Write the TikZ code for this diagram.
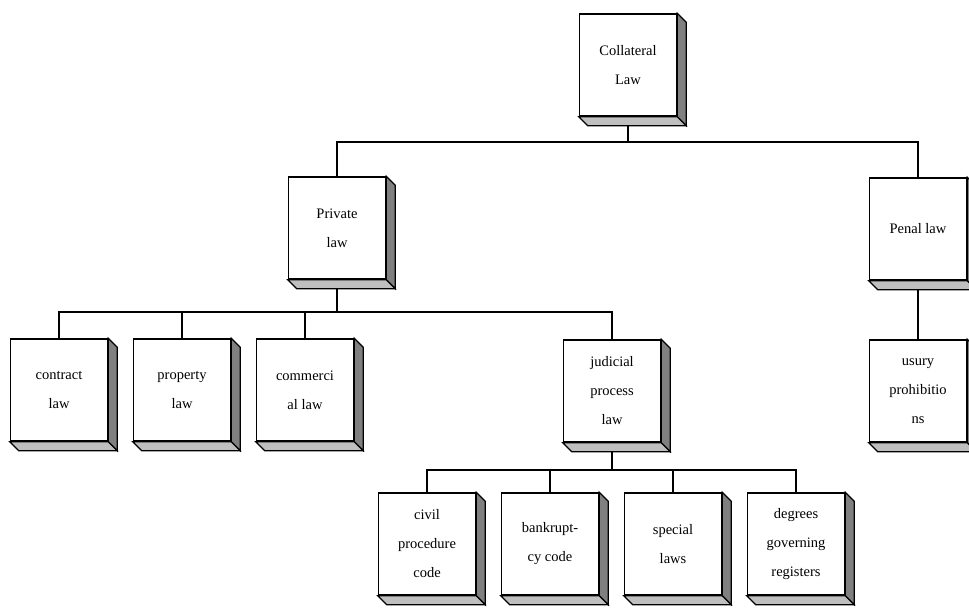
\documentclass[tikz,border=0pt]{standalone}
\usepackage{fontspec}
\setmainfont{Liberation Serif}
\usetikzlibrary{positioning, backgrounds}
\tikzset{
node distance=123pt, % distance between the centres of boxes in one row
lawbox/.style={draw, line width=1.5pt, fill=white, minimum width=97pt, minimum height=102pt, inner sep=1pt, align=center, font=\fontsize{14.5}{29}\selectfont}, % front face of every box
sideface/.style={draw, line width=1.2pt, fill=gray}, % dark right face
bottomface/.style={draw, line width=1.2pt, fill=gray!50}, % light bottom face
link/.style={line width=1.6pt}, % the lines of the tree
}

\begin{document}
\begin{tikzpicture}[x=1pt, y=-1pt]
            \useasboundingbox (0,0) rectangle (969,608);
            \node[lawbox] (coll) at (628,65) {Collateral\\Law};
            \node[lawbox] (private) at (337,228) {Private\\law};
            \node[lawbox] (penal) at (918,229) {Penal law};
            \node[lawbox] (contract) at (59,390) {contract\\law};
            \node[lawbox, right of=contract] (property) {property\\law};
            \node[lawbox, right of=property] (commercial) {commerci\\al law};
            \node[lawbox] (judicial) at (612,391) {judicial\\process\\law};
            \node[lawbox] (usury) at (918,391) {usury\\prohibitio\\ns};
            \node[lawbox] (civil) at (427,544) {civil\\procedure\\code};
            \node[lawbox, right of=civil] (bankruptcy) {bankrupt-\\cy code};
            \node[lawbox, right of=bankruptcy] (special) {special\\laws};
            \node[lawbox, right of=special] (degrees) {degrees\\governing\\registers};
            % right and bottom faces of the boxes
            \foreach \n in {coll, private, penal, contract, property, commercial, judicial, usury, civil, bankruptcy, special, degrees} {
                \draw[sideface] (\n.north east) -- ++(9pt,-9pt) -- ([shift={(9pt,-9pt)}]\n.south east) -- (\n.south east) -- cycle;
                \draw[bottomface] (\n.south west) -- ++(9pt,-9pt) -- ([shift={(9pt,-9pt)}]\n.south east) -- (\n.south east) -- cycle;
            }
            \begin{scope}[on background layer]
            \draw[link]
                (coll.south) -- ++(0,25) -| (private.north)
                (coll.south) -- ++(0,25) -| (penal.north)
                (penal.south) -- (usury.north)
                ;
            \foreach \n in {contract, property, commercial, judicial}
                \draw[link] (private.south) -- ++(0,32) -| (\n.north);
            \foreach \n in {civil, bankruptcy, special, degrees}
                \draw[link] (judicial.south) -- ++(0,27) -| (\n.north);
            \end{scope}
            \end{tikzpicture}
\end{document}
